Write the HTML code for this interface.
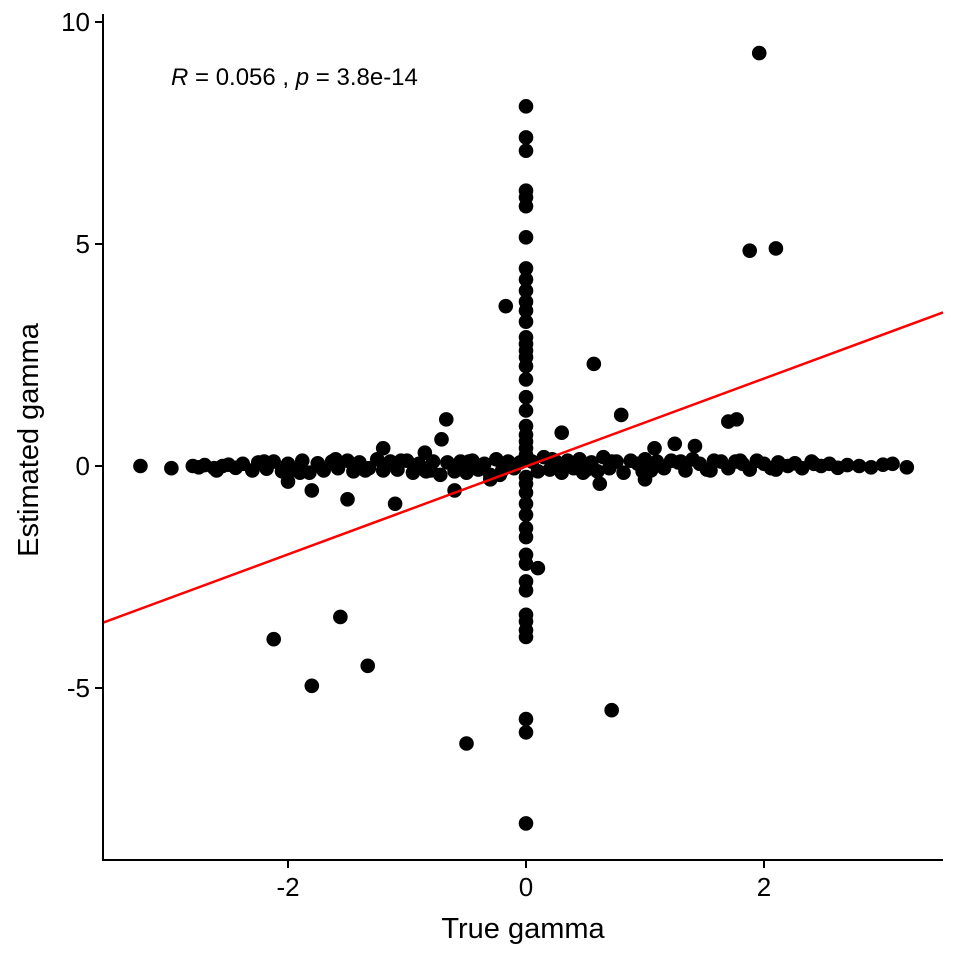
<!DOCTYPE html>
<html><head><meta charset="utf-8"><style>
body{margin:0;background:#fff;}
svg{display:block;font-family:"Liberation Sans",sans-serif;}
</style></head><body>
<svg id="chart" width="960" height="960">
<g id="marks"></g>
<line x1="103" y1="860" x2="943" y2="860" stroke="#000" stroke-width="2"/>
<line x1="103" y1="14" x2="103" y2="861" stroke="#000" stroke-width="2"/>
<g id="xticks"></g>
<g id="yticks"></g>
<text x="523" y="938" font-size="29" text-anchor="middle">True gamma</text>
<text transform="translate(38,440) rotate(-90)" font-size="29" text-anchor="middle">Estimated gamma</text>
<text x="171" y="85" font-size="24"><tspan font-style="italic">R</tspan> = 0.056 , <tspan font-style="italic">p</tspan> = 3.8e-14</text>
</svg>
<script>
const xTicks=[-2,0,2];
const yTicks=[10,5,0,-5];
const fitSlope=0.99;
const fitIntercept=-0.01;
const bandX=[-3.24,-2.98,-2.8,-2.75,-2.7,-2.62,-2.55,-2.5,-2.44,-2.38,-2.3,-2.25,-2.18,-2.12,-2.05,-2.0,-1.95,-1.88,-1.82,-1.75,-1.7,-1.63,-1.58,-1.5,-1.45,-1.4,-1.32,-1.25,-1.2,-1.14,-1.08,-1.0,-0.95,-0.9,-0.84,-0.78,-0.72,-0.66,-0.6,-0.55,-0.5,-0.45,-0.4,-0.35,-0.3,-0.25,-0.2,-0.15,-0.1,-0.05,0.05,0.1,0.15,0.2,0.25,0.3,0.35,0.4,0.45,0.5,0.55,0.6,0.65,0.7,0.76,0.82,0.88,0.94,1.0,1.05,1.1,1.16,1.22,1.28,1.34,1.4,1.46,1.52,1.58,1.64,1.7,1.76,1.82,1.88,1.94,2.0,2.06,2.12,2.2,2.26,2.32,2.4,2.48,2.55,2.62,2.7,2.8,2.9,3.0,3.08,3.2,-2.6,-2.2,-1.9,-1.6,-1.35,-1.05,-0.8,-0.48,-0.22,0.22,0.48,0.72,0.98,1.3,1.55,1.8,2.1,2.42];
const bandY=[0.0,-0.05,0.0,-0.03,0.02,-0.05,0.0,0.03,-0.04,0.05,-0.1,0.08,-0.06,0.1,-0.12,0.05,-0.08,0.12,-0.15,0.06,-0.1,0.1,-0.05,0.12,-0.12,0.08,-0.05,0.15,-0.1,0.1,-0.08,0.12,-0.15,0.05,-0.12,0.1,-0.2,0.08,-0.12,0.1,-0.15,0.12,-0.08,0.05,-0.2,0.15,-0.1,0.1,-0.05,0.08,0.1,-0.12,0.2,-0.08,0.1,-0.15,0.12,-0.05,0.15,-0.1,0.08,-0.12,0.2,-0.05,0.1,-0.15,0.12,0.05,0.15,-0.1,0.1,-0.05,0.12,0.08,-0.1,0.15,0.05,-0.08,0.12,0.1,-0.05,0.1,0.05,-0.08,0.12,0.05,-0.05,0.08,0.0,0.06,-0.05,0.1,0.0,0.05,-0.04,0.02,0.0,-0.03,0.03,0.05,-0.03,-0.1,0.1,-0.15,0.15,-0.1,0.12,-0.1,0.1,-0.2,0.15,-0.15,0.1,-0.12,0.1,-0.1,0.12,-0.08,0.05];
const vertY=[8.1,7.4,7.1,6.2,6.05,5.85,5.15,4.45,4.2,3.95,3.7,3.5,3.25,2.9,2.75,2.6,2.45,2.25,1.95,1.55,1.25,0.9,0.7,0.55,0.4,0.25,-0.25,-0.4,-0.6,-0.85,-1.1,-1.4,-1.6,-2.0,-2.2,-2.6,-2.8,-3.35,-3.5,-3.7,-3.85,-5.7,-6.0,-8.05];
const outX=[1.96,1.88,2.1,-0.17,0.57,0.8,1.7,1.77,-0.67,-0.71,0.3,0.1,-2.12,-1.8,-1.56,-1.33,-0.5,0.72,-1.1,-1.5,-1.8,-2.0,-1.2,1.42,1.25,1.0,0.62,-0.6,1.08,-0.85,-0.3];
const outY=[9.3,4.85,4.9,3.6,2.3,1.15,1.0,1.05,1.05,0.6,0.75,-2.3,-3.9,-4.95,-3.4,-4.5,-6.25,-5.5,-0.85,-0.75,-0.55,-0.35,0.4,0.45,0.5,-0.3,-0.4,-0.55,0.4,0.3,-0.3];
const sx=v=>526+v*119;
const sy=v=>466-v*44.4;
const NS='http://www.w3.org/2000/svg';
const marks=document.getElementById('marks');
function dot(x,y,name){
  const c=document.createElementNS(NS,'circle');
  c.setAttribute('cx',sx(x));c.setAttribute('cy',sy(y));c.setAttribute('r',7.3);c.setAttribute('fill','#000');
  
  
  marks.appendChild(c);
}
bandX.forEach((x,i)=>dot(x,bandY[i],'band-point'));
vertY.forEach(y=>dot(0,y,'vertical-point'));
outX.forEach((x,i)=>dot(x,outY[i],'outlier-point'));
const x0=(103-526)/119,x1=(943-526)/119;
const ln=document.createElementNS(NS,'line');
ln.setAttribute('x1',sx(x0));ln.setAttribute('y1',sy(fitIntercept+fitSlope*x0));
ln.setAttribute('x2',sx(x1));ln.setAttribute('y2',sy(fitIntercept+fitSlope*x1));
ln.setAttribute('stroke','#f00');ln.setAttribute('stroke-width','2.5');


marks.appendChild(ln);
const xg=document.getElementById('xticks');
xTicks.forEach(t=>{
  const l=document.createElementNS(NS,'line');
  l.setAttribute('x1',sx(t));l.setAttribute('x2',sx(t));l.setAttribute('y1',860);l.setAttribute('y2',868);l.setAttribute('stroke','#000');l.setAttribute('stroke-width','2');
  
  
  xg.appendChild(l);
  const tx=document.createElementNS(NS,'text');
  tx.setAttribute('x',sx(t));tx.setAttribute('y',896);tx.setAttribute('font-size','26');tx.setAttribute('text-anchor','middle');
  tx.textContent=t;
  
  
  xg.appendChild(tx);
});
const yg=document.getElementById('yticks');
yTicks.forEach(t=>{
  const l=document.createElementNS(NS,'line');
  l.setAttribute('x1',95);l.setAttribute('x2',103);l.setAttribute('y1',sy(t));l.setAttribute('y2',sy(t));l.setAttribute('stroke','#000');l.setAttribute('stroke-width','2');
  
  
  yg.appendChild(l);
  const tx=document.createElementNS(NS,'text');
  tx.setAttribute('x',90);tx.setAttribute('y',sy(t)+9);tx.setAttribute('font-size','26');tx.setAttribute('text-anchor','end');
  tx.textContent=t;
  
  
  yg.appendChild(tx);
});
</script>
</body></html>
